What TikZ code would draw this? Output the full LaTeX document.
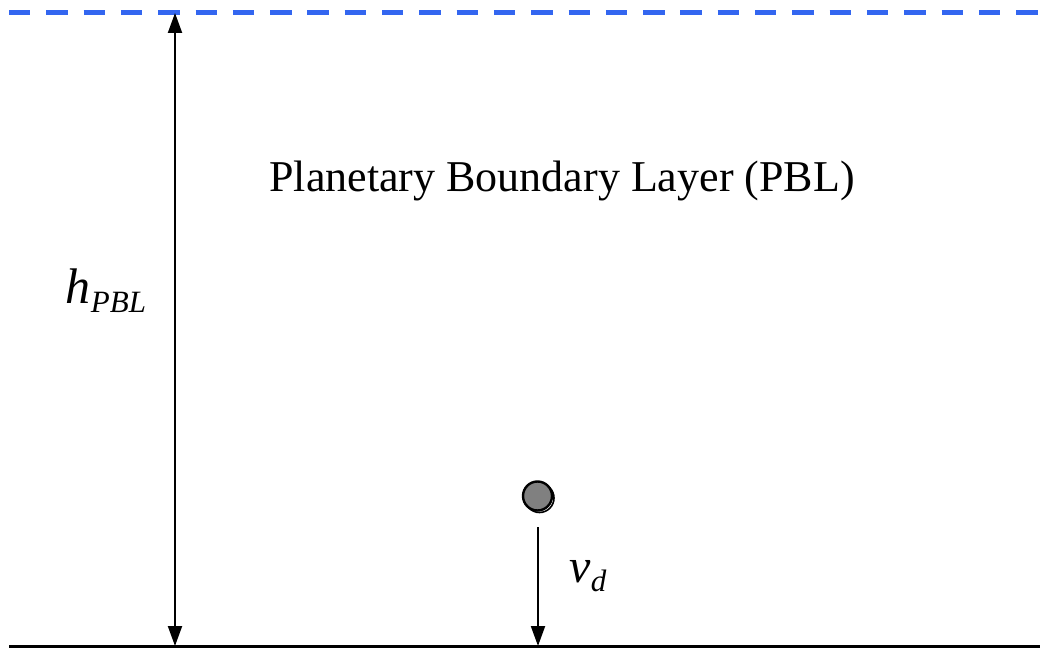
\documentclass[tikz,border=0pt]{standalone}
\usepackage{fontspec}
\setmainfont{Liberation Serif}
\usepackage{tikz}
\usetikzlibrary{positioning, arrows.meta, calc}
\definecolor{pblblue}{RGB}{51,102,240}
\definecolor{particlegray}{RGB}{128,128,128}

\begin{document}
\begin{tikzpicture}[
  x=1pt, y=1pt,
  boundary/.style={pblblue, line width=5pt, dash pattern=on 21.4pt off 15.9pt},
  ground/.style={black, line width=3pt},
  measure/.style={line width=2pt, {Triangle[length=20pt,width=14pt]}-{Triangle[length=20pt,width=14pt]}},
  fall/.style={line width=2pt, -{Triangle[length=20pt,width=14pt]}},
  particle/.style={circle, draw=black, line width=2.4pt, fill=particlegray, minimum size=29pt, inner sep=0pt},
  label/.style={font=\fontsize{44}{50}\selectfont, inner sep=0pt}
]
  \useasboundingbox (0,0) rectangle (1040,648);

  % layer top and ground
  \coordinate (topL) at (9,635);
  \coordinate (topR) at (1040,635);
  \coordinate (groundL) at (9,2);
  \coordinate (groundR) at (1040,2);
  \draw[boundary] (topL) -- (topR);
  \draw[ground] (groundL) -- (groundR);

  % height of the PBL
  \coordinate (hTop) at (175,635);
  \coordinate (hBot) at (175,2);
  \draw[measure] (hBot) -- (hTop);
  \node[label, anchor=base] (hlabel) at (106,344)
    {\fontsize{50}{56}\selectfont\itshape h\raisebox{-9pt}{\fontsize{31}{34}\selectfont PBL}};

  \node[label, anchor=base] (title) at (562,456) {Planetary Boundary Layer (PBL)};

  % settling particle
  \draw[line width=1.6pt] (539.5,150) circle (14.5pt);
  \node[particle] (dot) at (537.5,152) {};
  \coordinate (vdStart) at (538,121);
  \coordinate (vdEnd) at (538,2);
  \draw[fall] (vdStart) -- (vdEnd);
  \node[label, anchor=base] (vdlabel) at (588,66)
    {\fontsize{48}{54}\selectfont\itshape v\raisebox{-9pt}{\fontsize{31}{34}\selectfont d}};
\end{tikzpicture}
\end{document}
